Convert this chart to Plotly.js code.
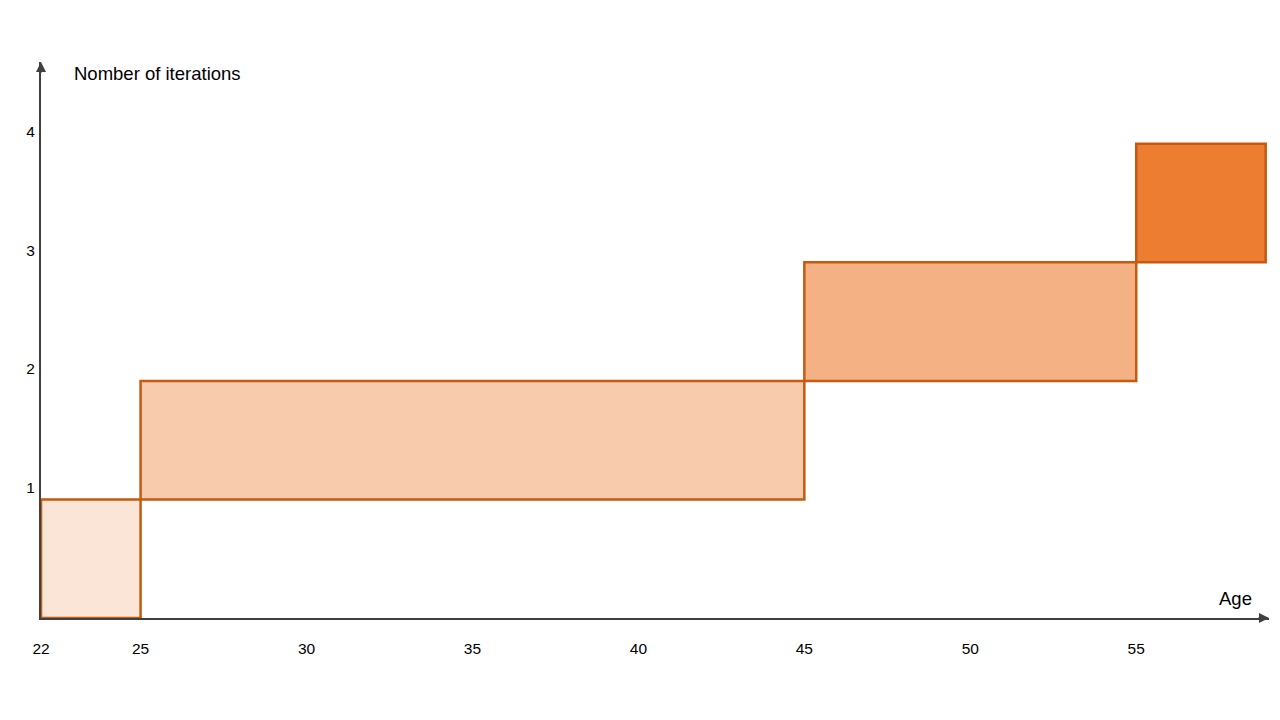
<!DOCTYPE html>
<html>
<head>
<meta charset="utf-8">
<script src="https://cdn.plot.ly/plotly-3.0.1.min.js"></script>
<style>html,body{margin:0;padding:0;background:#fff;}#chart{width:1280px;height:720px;}</style>
</head>
<body>
<div id="chart"></div>
<script>
// Data
var ageStart = [22, 25, 45, 55];
var ageEnd = [25, 45, 55, 58.9];
var iterLow = [0, 1, 2, 3];
var iterHigh = [1, 2, 3, 4];
var fillColors = ['#FBE5D6', '#F8CBAD', '#F4B183', '#ED7D31'];
var xTicks = [22, 25, 30, 35, 40, 45, 50, 55];
var yTicks = [1, 2, 3, 4];

var centers = ageStart.map(function(s, i){ return (s + ageEnd[i]) / 2; });
var widths = ageStart.map(function(s, i){ return ageEnd[i] - s; });
var heights = iterLow.map(function(b, i){ return iterHigh[i] - b; });

var trace = {
  type: 'bar',
  x: centers,
  y: heights,
  base: iterLow,
  width: widths,
  marker: {color: fillColors, line: {color: '#C55A11', width: 2.5}},
  hoverinfo: 'none',
  cliponaxis: false
};

var axisColor = '#404040';
var font = {family: 'Liberation Sans, Arial, sans-serif', size: 15.5, color: '#000'};
var titleFont = {family: 'Liberation Sans, Arial, sans-serif', size: 18.5, color: '#000'};

var layout = {
  width: 1280, height: 720,
  margin: {l: 41, r: 11, t: 62, b: 102},
  paper_bgcolor: '#fff', plot_bgcolor: '#fff',
  showlegend: false,
  font: font,
  xaxis: {
    range: [22, 59], showgrid: false, zeroline: false,
    showline: true, linecolor: axisColor, linewidth: 2, layer: 'below traces',
    tickvals: xTicks, ticks: '', ticklabelstandoff: 15, tickfont: font
  },
  yaxis: {
    range: [0, 4.69], showgrid: false, zeroline: false,
    showline: true, linecolor: axisColor, linewidth: 2, layer: 'below traces',
    tickvals: yTicks, ticks: '', ticklabelshift: -12, ticklabelstandoff: 1, tickfont: font
  },
  annotations: [
    {xref: 'x', yref: 'y', x: 59, y: 0, ax: -12, ay: 0, showarrow: true, arrowhead: 2, arrowsize: 1, arrowwidth: 2, arrowcolor: axisColor, text: ''},
    {xref: 'x', yref: 'y', x: 22, y: 4.69, ax: 0, ay: 12, showarrow: true, arrowhead: 2, arrowsize: 1, arrowwidth: 2, arrowcolor: axisColor, text: ''},
    {xref: 'paper', yref: 'paper', x: 0.025, y: 1.0, xanchor: 'left', yanchor: 'middle', yshift: -11, showarrow: false,
     text: 'Nomber of iterations', font: titleFont},
    {xref: 'x', yref: 'y', x: 58.0, y: 0, xanchor: 'center', yanchor: 'bottom', yshift: 7, showarrow: false,
     text: 'Age', font: titleFont}
  ]
};

Plotly.newPlot('chart', [trace], layout, {staticPlot: true, displayModeBar: false});
</script>
</body>
</html>
